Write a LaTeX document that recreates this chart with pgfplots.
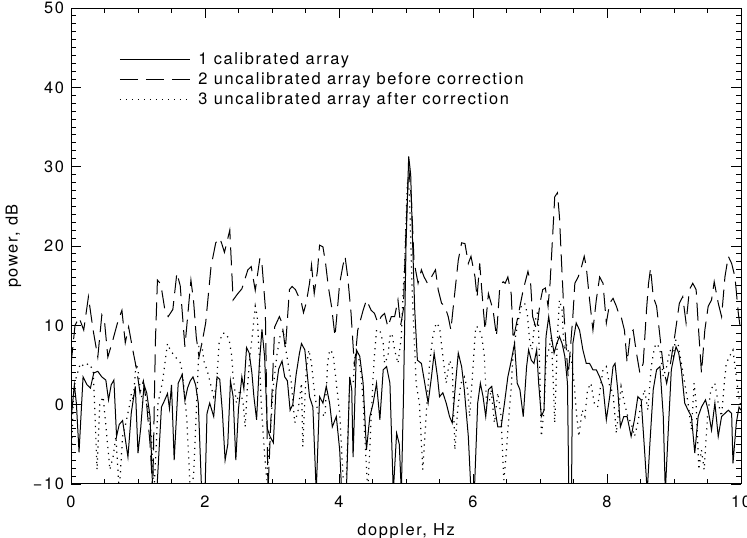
\documentclass[border=0pt]{standalone}
\usepackage{pgfplots}
\pgfplotsset{compat=1.18}
\usepackage{fontspec}
\setmainfont{TeX Gyre Heros}[LetterSpace=10]
\begin{document}
\begin{tikzpicture}
\begin{axis}[
  name=ax,
  scale only axis,
  width=335pt, height=238pt,
  xmin=0, xmax=10, ymin=-10, ymax=50,
  xtick={0,2,4,6,8,10},
  xticklabels={0,2,4,6,8,10},
  ytick={-10,0,10,20,30,40,50},
  yticklabels={−10,0,10,20,30,40,50},
  minor x tick num=3,
  minor y tick num=9,
  tick align=inside,
  major tick length=5pt,
  minor tick length=2.6pt,
  axis line style={line width=0.5pt},
  tick style={line width=0.45pt, black},
  tick label style={font=\fontsize{8.2}{9.5}\selectfont},
  xticklabel style={yshift=-2.5pt},
  label style={font=\fontsize{8.2}{9.5}\selectfont},
  xlabel={doppler, Hz},
  ylabel={power, dB},
  xlabel style={yshift=-1pt},
  ylabel style={yshift=-1pt},
  legend cell align=left,
  legend style={draw=none, fill=none, at={(axis cs:0.625,45.5)}, anchor=north west,
    font=\fontsize{8.2}{9.5}\selectfont, row sep=-1.5pt,
    nodes={inner xsep=4pt}},
  legend image code/.code={\draw[#1] (0pt,0pt) -- (35pt,0pt);},
]
\addplot[black, line width=0.5pt] coordinates {
(0.00,-2) (0.05,2.5) (0.08,0.2) (0.12,-6) (0.18,3.5) (0.24,2.5) (0.29,2.1) (0.34,4.0)
(0.40,4.2) (0.46,3.5) (0.52,3.1) (0.56,0.6) (0.60,2.5) (0.64,3.1) (0.68,-4) (0.72,-2.5)
(0.77,-2.0) (0.85,-6.6) (0.90,-1) (0.96,2.3) (1.00,-6.1) (1.04,-3) (1.09,2.5) (1.13,1.5)
(1.18,-1.5) (1.22,-11) (1.28,-11) (1.35,-0.3) (1.40,0.6) (1.44,1.4) (1.47,-0.5) (1.50,2.5)
(1.54,-7) (1.60,2.7) (1.66,3.8) (1.70,0.5) (1.74,2.1) (1.78,3) (1.82,3.5) (1.86,2.5)
(1.90,0.2) (1.95,-11) (2.00,-11) (2.03,-1.1) (2.07,0.2) (2.13,-1.5) (2.18,3.5) (2.22,3.2)
(2.26,-1) (2.30,-7) (2.34,-5) (2.38,3) (2.42,1) (2.46,-7) (2.50,-0.5) (2.55,3.5)
(2.58,2) (2.62,7.2) (2.66,6.5) (2.70,4) (2.73,1) (2.77,-1.9) (2.81,5) (2.85,9.5)
(2.89,6) (2.93,-3) (2.97,-4) (3.02,-4.8) (3.06,2) (3.10,4.5) (3.15,5.5) (3.19,3.5)
(3.23,3) (3.27,-0.7) (3.31,0) (3.36,3.8) (3.41,6.5) (3.44,7.7) (3.49,6.9) (3.53,3.5)
(3.56,1) (3.61,-0.3) (3.66,-11) (3.71,1) (3.76,0.2) (3.81,2.3) (3.86,0.2) (3.90,-2.8)
(3.96,-1.5) (4.01,-5.7) (4.04,-11) (4.11,-11) (4.16,3.5) (4.19,1.9) (4.21,-6.6) (4.26,6.9)
(4.31,6.1) (4.36,2.7) (4.41,-5.7) (4.46,-1.5) (4.51,0.2) (4.56,2.7) (4.61,-1.9) (4.66,4.4)
(4.71,4.8) (4.76,2.7) (4.81,-11) (4.86,-3.6) (4.90,-5) (4.93,-11) (4.96,0) (5.00,20)
(5.04,31.3) (5.07,29) (5.10,20) (5.13,12) (5.17,5.6) (5.23,5.2) (5.28,2.7) (5.33,0.2)
(5.38,3.5) (5.42,6.5) (5.47,3.5) (5.50,1) (5.55,1.5) (5.60,0.2) (5.65,-1.5) (5.69,-2.3)
(5.74,2.7) (5.78,6.5) (5.83,4.8) (5.87,1.9) (5.93,-4) (5.97,-11) (6.02,-11) (6.07,0.2)
(6.11,2.7) (6.15,1) (6.19,-1.5) (6.23,1.9) (6.28,2.3) (6.33,-0.7) (6.37,-2.8) (6.42,-2.8)
(6.47,0.2) (6.52,3.5) (6.57,5.5) (6.62,7.7) (6.66,2.7) (6.70,1.9) (6.75,-1.5) (6.80,4.8)
(6.83,6.9) (6.87,5.6) (6.91,5.2) (6.95,6.9) (6.98,2.7) (7.02,-1.5) (7.06,-0.7) (7.09,8.6)
(7.13,11.1) (7.17,8.6) (7.21,6.5) (7.25,7.7) (7.29,8.6) (7.33,7.7) (7.37,6.1) (7.41,2.7)
(7.43,-11) (7.47,-11) (7.49,7.7) (7.54,10.3) (7.59,9.4) (7.64,6.9) (7.69,5.2) (7.74,5.2)
(7.79,4.4) (7.84,4.4) (7.89,3.5) (7.94,2.3) (7.99,-1.9) (8.04,1) (8.09,4.8) (8.12,5.2)
(8.16,1.9) (8.20,-2.8) (8.25,-1.5) (8.30,-1.5) (8.36,-4) (8.41,-1.9) (8.46,1) (8.51,0.6)
(8.56,-5.7) (8.60,-11) (8.64,-4.9) (8.69,1.9) (8.74,4.4) (8.79,4.8) (8.84,-1.5) (8.87,-11)
(8.91,-4) (8.96,4.4) (9.00,6.1) (9.03,7.3) (9.07,6.5) (9.11,4.4) (9.16,0.2) (9.21,-0.7)
(9.26,-1.5) (9.31,-6.1) (9.36,-1.5) (9.41,-0.3) (9.47,0.6) (9.51,-0.7) (9.56,-3.2) (9.61,0.2)
(9.66,-4) (9.71,-1.5) (9.76,-1.1) (9.81,-0.7) (9.86,-1.1) (9.88,-7.4) (9.93,-2.3) (9.97,-0.3)
(10.00,-0.7)
};
\addlegendentry{1 calibrated array}
\addplot[black, line width=0.5pt, dash pattern=on 9pt off 4pt] coordinates {
(0.00,5) (0.06,10) (0.12,11) (0.19,9.4) (0.26,13.6) (0.33,9.4) (0.40,6.0) (0.46,11.3)
(0.50,10.5) (0.55,6.0) (0.62,8) (0.70,10.5) (0.76,11.9) (0.81,7.8) (0.86,9.8) (0.92,7)
(0.98,4.4) (1.03,1.5) (1.08,3) (1.13,0) (1.18,-5) (1.22,-11) (1.26,8) (1.29,15.7)
(1.34,15.2) (1.40,12) (1.45,11.1) (1.52,12) (1.58,16.6) (1.63,15) (1.70,7.3) (1.79,15.7)
(1.83,13) (1.87,8.5) (1.91,6) (1.96,8) (2.01,10.3) (2.09,17.4) (2.16,20.4) (2.22,21)
(2.25,20.3) (2.29,19.2) (2.37,22) (2.42,13.2) (2.49,14) (2.55,14.6) (2.64,17) (2.69,17.4)
(2.75,14.4) (2.82,18.5) (2.85,17.8) (2.90,12.3) (2.94,-11) (3.04,9.8) (3.11,11.1) (3.15,10.3)
(3.20,7) (3.26,14.5) (3.30,14.9) (3.35,14.5) (3.44,12.8) (3.47,11.6) (3.51,12.8) (3.56,15.3)
(3.59,17.6) (3.63,14) (3.68,17) (3.71,20.1) (3.76,19.9) (3.80,17.8) (3.84,14.9) (3.89,12.3)
(3.94,8.6) (4.01,15.3) (4.06,17.6) (4.09,18.7) (4.13,16.1) (4.18,11.5) (4.23,4.8) (4.28,9.4)
(4.36,11.9) (4.41,13.2) (4.48,11.9) (4.53,11.5) (4.58,10.3) (4.63,11.1) (4.68,11.5) (4.73,9.8)
(4.78,11.1) (4.83,11.1) (4.88,13.2) (4.92,10) (4.96,12) (5.00,22) (5.04,30) (5.08,26)
(5.12,18) (5.18,15.3) (5.23,17) (5.27,16.1) (5.32,15.3) (5.38,16.1) (5.44,17) (5.48,14.5)
(5.53,12.8) (5.58,12.4) (5.63,11.1) (5.67,9.4) (5.70,11.9) (5.78,18.2) (5.83,20.4) (5.88,20.3)
(5.93,17.8) (5.97,18.7) (6.03,16.1) (6.06,13.5) (6.10,17.8) (6.15,12.4) (6.18,9.4) (6.23,14)
(6.30,11.9) (6.35,8.6) (6.40,14.9) (6.45,15.5) (6.48,15.3) (6.52,16.1) (6.57,14) (6.60,8.2)
(6.67,11.1) (6.75,14.5) (6.82,16.8) (6.86,15.3) (6.89,11.1) (6.95,9.4) (7.00,12.8) (7.04,14.5)
(7.08,14.7) (7.12,12.4) (7.15,15.3) (7.19,21.5) (7.22,26.2) (7.26,26.7) (7.29,23.7) (7.32,18.2)
(7.36,11.1) (7.42,3.5) (7.49,11.1) (7.52,15.3) (7.57,16.1) (7.62,17.4) (7.66,18.7) (7.69,17.4)
(7.74,13.2) (7.79,9.4) (7.84,13.2) (7.89,16.1) (7.94,15.3) (7.99,10.3) (8.04,12.8) (8.09,13.4)
(8.14,12.4) (8.19,11.1) (8.21,11.1) (8.26,9.4) (8.30,5.3) (8.35,9.0) (8.39,9.4) (8.44,6.5)
(8.49,4.0) (8.54,5.2) (8.59,12) (8.62,15.3) (8.65,17.2) (8.69,13.6) (8.74,12.4) (8.79,8.6)
(8.84,4.8) (8.89,2.7) (8.94,4.8) (9.01,8.6) (9.08,12.8) (9.13,13.6) (9.18,10.3) (9.23,14.5)
(9.28,15.3) (9.33,14.5) (9.37,9.0) (9.41,4.0) (9.46,9.4) (9.51,12.4) (9.56,13.2) (9.60,15.5)
(9.66,12.8) (9.71,11.1) (9.76,16.1) (9.81,18.7) (9.86,17.8) (9.91,16.1) (9.96,11.5) (10.00,9)
};
\addlegendentry{2 uncalibrated array before correction}
\addplot[black, line width=0.6pt, dash pattern=on 0.6pt off 2.4pt] coordinates {
(0.00,-8) (0.04,2) (0.08,3.5) (0.14,5.2) (0.20,4.8) (0.26,5.2) (0.33,4.4) (0.39,-8.2)
(0.43,0) (0.48,1) (0.53,-3.5) (0.58,-8.2) (0.63,-6.5) (0.67,-4) (0.72,-11) (0.77,-4)
(0.82,-2.3) (0.88,0.2) (0.90,1.4) (0.93,0.6) (0.97,5.2) (1.00,4.4) (1.03,2.3) (1.07,0.2)
(1.12,0.6) (1.15,-0.7) (1.20,-4) (1.24,-11) (1.30,0.2) (1.37,3.1) (1.44,7.7) (1.48,6.9)
(1.55,6.1) (1.60,5.6) (1.64,5.2) (1.68,2.7) (1.73,-1.9) (1.78,-11) (1.83,-9) (1.88,1)
(1.91,7.7) (1.95,7.7) (1.99,5.2) (2.03,4.4) (2.08,2.7) (2.13,1) (2.17,2.3) (2.21,7.7)
(2.26,9) (2.31,9) (2.36,8.2) (2.40,6.1) (2.42,3.5) (2.47,0.2) (2.52,1.9) (2.57,0.2)
(2.60,-2.8) (2.63,1.9) (2.67,6.1) (2.71,9) (2.75,12.4) (2.78,11.1) (2.82,4.4) (2.84,0.2)
(2.87,-4) (2.92,-9.5) (2.97,-4) (3.02,2.3) (3.07,6.1) (3.12,8.6) (3.17,9.4) (3.19,7.7)
(3.24,5.2) (3.29,2.7) (3.34,-2.3) (3.39,-0.7) (3.44,2.7) (3.46,-5.3) (3.51,4.4) (3.55,6.9)
(3.59,5.2) (3.64,1) (3.69,-1.1) (3.74,-1.1) (3.79,-1.5) (3.83,5.2) (3.86,6.9) (3.91,6.5)
(3.96,2.7) (4.01,-1.1) (4.06,-9.1) (4.11,-9.1) (4.16,2.7) (4.21,2.7) (4.24,6.1) (4.28,6.9)
(4.32,4.4) (4.36,0.6) (4.39,-4.9) (4.43,-11) (4.48,-1.5) (4.52,5.2) (4.56,9.4) (4.61,9.4)
(4.66,7.7) (4.68,5.2) (4.73,6.1) (4.76,8.6) (4.79,9.0) (4.83,6.9) (4.88,5.2) (4.93,8.6)
(4.94,11.1) (4.98,18) (5.02,28) (5.05,27) (5.09,15) (5.15,2.7) (5.20,0.2) (5.25,-8.2)
(5.30,-1.5) (5.35,5) (5.40,8.6) (5.45,10.3) (5.50,9.8) (5.55,6.1) (5.60,2.7) (5.65,5.6)
(5.69,4.8) (5.73,-5.7) (5.77,-0.7) (5.82,2.7) (5.87,3.5) (5.92,1.9) (5.95,-1.5) (5.99,3.5)
(6.04,9.8) (6.08,9.8) (6.13,8.6) (6.17,6.1) (6.20,0.2) (6.24,0.2) (6.27,1.9) (6.32,-2.3)
(6.37,1.5) (6.42,-1.5) (6.46,-9.5) (6.50,-5.7) (6.55,0.2) (6.57,2) (6.60,6.9) (6.67,10.3)
(6.72,12.4) (6.77,12.8) (6.81,11.5) (6.85,7.7) (6.88,6.9) (6.92,10.3) (6.97,11.9) (6.99,6.1)
(7.02,-4) (7.06,-0.7) (7.09,5.6) (7.13,6.9) (7.17,8.6) (7.22,-2.3) (7.26,8.6) (7.29,13.2)
(7.33,11.9) (7.36,6.9) (7.39,7.7) (7.43,6.5) (7.47,5.6) (7.51,2.7) (7.54,-0.7) (7.58,-4)
(7.63,-0.7) (7.67,-1.5) (7.71,1.9) (7.76,2.7) (7.81,0.2) (7.86,-0.3) (7.91,2.7) (7.94,4.4)
(7.99,4.8) (8.04,2.3) (8.09,1.5) (8.14,-3.6) (8.19,0.6) (8.21,2.3) (8.26,0.2) (8.31,-1.5)
(8.36,-2.3) (8.41,-4) (8.46,-2.3) (8.51,0.2) (8.56,1.9) (8.61,-0.7) (8.66,4.8) (8.71,7.3)
(8.75,7.7) (8.79,6.9) (8.84,3.5) (8.89,4.8) (8.94,6.9) (8.99,6.1) (9.02,8.2) (9.06,7.7)
(9.11,5.2) (9.16,2.7) (9.21,0.2) (9.26,-3.2) (9.30,2.7) (9.33,0.2) (9.37,-8.2) (9.41,-5.7)
(9.45,-8.2) (9.50,-1.5) (9.55,1.9) (9.61,2.7) (9.66,0.2) (9.71,-1.5) (9.75,2.7) (9.78,5.2)
(9.83,6.1) (9.88,6.9) (9.93,3.5) (9.98,0.2) (10.00,0)
};
\addlegendentry{3 uncalibrated array after correction}
\end{axis}
\pgfresetboundingbox
\path[use as bounding box] ([xshift=-35.5pt,yshift=-27pt]ax.south west) rectangle ([xshift=3pt,yshift=4pt]ax.north east);
\end{tikzpicture}
\end{document}
